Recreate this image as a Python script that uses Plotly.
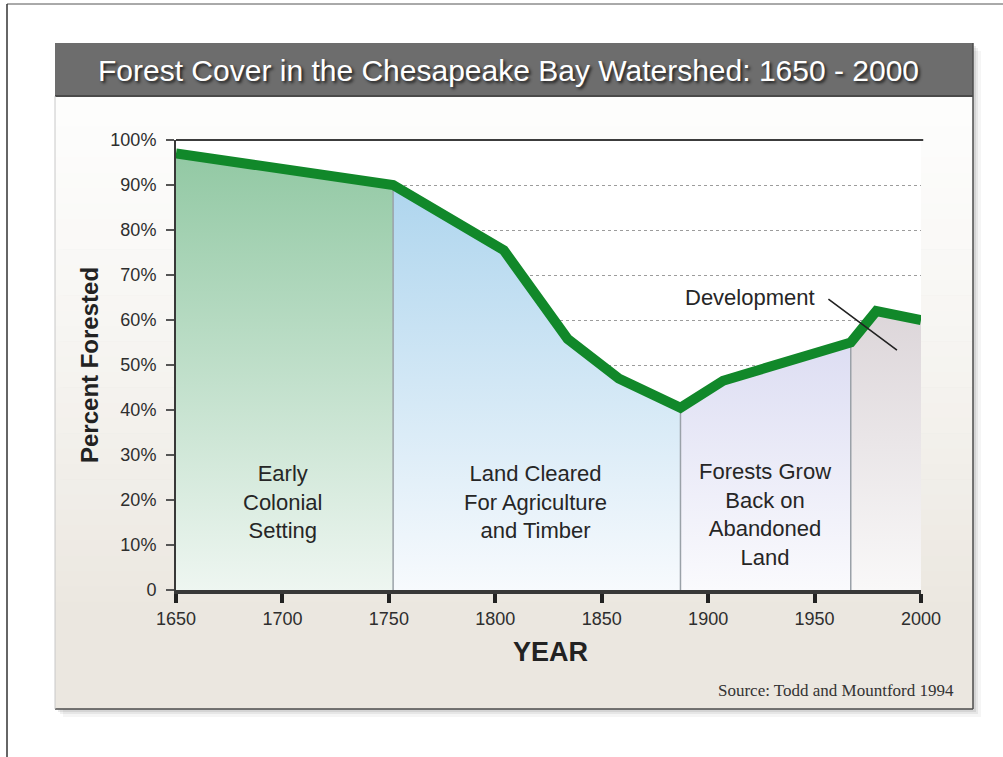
import plotly.graph_objects as go

# ---------------- data ----------------
years = [1650, 1752, 1804, 1834, 1858, 1887, 1907, 1967, 1979, 2000]
percent = [97, 90, 75.5, 55.8, 47, 40.5, 46.5, 55, 62, 60]

region_bounds = [1650, 1752, 1887, 1967, 2000]
region_names = ["Early<br>Colonial<br>Setting",
                "Land Cleared<br>For Agriculture<br>and Timber",
                "Forests Grow<br>Back on<br>Abandoned<br>Land",
                ""]
region_top_colors = ["#8fc7a1", "#a6d1ec", "#c5c6ea", "#cbc1c7"]
region_bottom_colors = ["#eef6f1", "#f7fafd", "#fafafd", "#f9f8f8"]

x_ticks = [1650, 1700, 1750, 1800, 1850, 1900, 1950, 2000]
y_ticks = [0, 10, 20, 30, 40, 50, 60, 70, 80, 90, 100]
y_tick_text = ["0"] + [f"{v}%" for v in y_ticks[1:]]

title_text = "Forest Cover in the Chesapeake Bay Watershed: 1650 - 2000"
source_text = "Source: Todd and Mountford 1994"

# ---------------- geometry (pixels) ----------------
FW, FH = 1003, 757
L, R, T, B = 176, 921, 140, 590
W, H = R - L, B - T


def PX(px):
    return (px - L) / W


def PY(py):
    return (B - py) / H


SANS = "Liberation Sans, Arial, Helvetica, sans-serif"
SERIF = "Liberation Serif, Times New Roman, serif"
TXT = "#262626"

fig = go.Figure()

# region fills
for i in range(len(region_bounds) - 1):
    lo, hi = region_bounds[i], region_bounds[i + 1]
    xs = [x for x in years if lo <= x <= hi]
    ys = [p for x, p in zip(years, percent) if lo <= x <= hi]
    fig.add_trace(go.Scatter(
        x=xs, y=ys, mode="none", fill="tozeroy",
        fillgradient=dict(type="vertical", start=0, stop=100,
                          colorscale=[[0, region_bottom_colors[i]],
                                      [1, region_top_colors[i]]]),
        hoverinfo="skip", showlegend=False))

# boundary lines
for b in region_bounds[1:-1]:
    v = percent[years.index(b)]
    fig.add_trace(go.Scatter(x=[b, b], y=[0, v], mode="lines",
                             line=dict(color="#9aa1a8", width=1.5),
                             hoverinfo="skip", showlegend=False))

# main line
fig.add_trace(go.Scatter(x=years, y=percent, mode="lines",
                         line=dict(color="#11882a", width=10),
                         showlegend=False))

# ---------------- decoration shapes ----------------
shapes = []
# outer frame
shapes.append(dict(type="line", xref="paper", yref="paper", x0=PX(7), x1=PX(1003),
                   y0=PY(4), y1=PY(4), line=dict(color="#555", width=1), layer="below"))
shapes.append(dict(type="line", xref="paper", yref="paper", x0=PX(7), x1=PX(7),
                   y0=PY(4), y1=PY(757), line=dict(color="#333", width=1.5), layer="below"))
# soft shadow
for off, a in [(8, 0.04), (5, 0.06), (3, 0.08)]:
    shapes.append(dict(type="rect", xref="paper", yref="paper",
                       x0=PX(55 + off), x1=PX(973 + off), y0=PY(43 + off), y1=PY(709 + off),
                       fillcolor=f"rgba(0,0,0,{a})", line=dict(width=0), layer="below"))
# panel gradient bands
N = 40
top_c, bot_c = (253, 253, 252), (235, 231, 224)
y0p, y1p = 96, 709
for k in range(N):
    t = (k + 0.5) / N
    tt = min(1.0, t ** 1.3 * 1.25)
    c = tuple(round(top_c[j] + (bot_c[j] - top_c[j]) * tt) for j in range(3))
    ya = y0p + (y1p - y0p) * k / N
    yb = y0p + (y1p - y0p) * (k + 1) / N + 0.6
    shapes.append(dict(type="rect", xref="paper", yref="paper",
                       x0=PX(55), x1=PX(973), y0=PY(ya), y1=PY(min(yb, y1p)),
                       fillcolor="rgb(%d,%d,%d)" % c, line=dict(width=0), layer="below"))
# title bar
shapes.append(dict(type="rect", xref="paper", yref="paper",
                   x0=PX(55), x1=PX(973), y0=PY(43), y1=PY(96),
                   fillcolor="#6d6d6d", line=dict(width=0), layer="below"))
shapes.append(dict(type="line", xref="paper", yref="paper", x0=PX(55), x1=PX(973),
                   y0=PY(96), y1=PY(96), line=dict(color="#4a4a4a", width=2), layer="below"))
# panel edges
shapes.append(dict(type="line", xref="paper", yref="paper", x0=PX(973), x1=PX(973),
                   y0=PY(43), y1=PY(709), line=dict(color="#4d4d4d", width=1.5), layer="below"))
shapes.append(dict(type="line", xref="paper", yref="paper", x0=PX(55), x1=PX(973),
                   y0=PY(709), y1=PY(709), line=dict(color="#4d4d4d", width=1.5), layer="below"))
shapes.append(dict(type="line", xref="paper", yref="paper", x0=PX(55), x1=PX(55),
                   y0=PY(96), y1=PY(709), line=dict(color="#c8c8c8", width=1), layer="below"))
# plot area background
shapes.append(dict(type="rect", xref="paper", yref="paper", x0=0, x1=1, y0=0, y1=1,
                   fillcolor="#ffffff", line=dict(width=0), layer="below"))
# top frame line of plot
shapes.append(dict(type="line", xref="paper", yref="paper", x0=0, x1=1.003, y0=1, y1=1,
                   line=dict(color="#3c3c3c", width=2), layer="above"))

# ---------------- annotations ----------------
ann = []
ann.append(dict(text=title_text, xref="paper", yref="paper", x=PX(508), y=PY(70),
                xanchor="center", yanchor="middle", showarrow=False,
                font=dict(family=SANS, size=30, color="#ffffff",
                          shadow="2px 2px 3px #1e1e1e")))
ann.append(dict(text="<b>Percent Forested</b>", xref="paper", yref="paper",
                x=PX(89), y=PY(365), textangle=-90, xanchor="center", yanchor="middle",
                showarrow=False, font=dict(family=SANS, size=24, color="#222")))
ann.append(dict(text="<b>YEAR</b>", xref="paper", yref="paper", x=PX(550), y=PY(652),
                xanchor="center", yanchor="middle", showarrow=False,
                font=dict(family=SANS, size=27, color="#222")))
ann.append(dict(text=source_text, xref="paper", yref="paper", x=PX(956), y=PY(690),
                xanchor="right", yanchor="middle", showarrow=False,
                font=dict(family=SERIF, size=17, color="#333")))

label_x = [1700.3, 1818.7, 1926.7, 1984]
label_y = [19.6, 19.6, 16.7, 0]
for i, name in enumerate(region_names):
    if not name:
        continue
    ann.append(dict(text=name, x=label_x[i], y=label_y[i], xref="x", yref="y",
                    xanchor="center", yanchor="middle", showarrow=False,
                    font=dict(family=SANS, size=22, color=TXT)))

ann.append(dict(text="Development", x=1919.7, y=65.1, xref="x", yref="y",
                xanchor="center", yanchor="middle", showarrow=False,
                font=dict(family=SANS, size=22, color=TXT)))
ann.append(dict(text="", x=1988.7, y=53.3, ax=1955.8, ay=64.9, xref="x", yref="y",
                axref="x", ayref="y", showarrow=True, arrowhead=0, arrowwidth=1.6,
                arrowcolor="#222"))

fig.update_layout(
    width=FW, height=FH, autosize=False,
    margin=dict(l=L, r=FW - R, t=T, b=FH - B, pad=0),
    paper_bgcolor="#ffffff", plot_bgcolor="rgba(0,0,0,0)",
    shapes=shapes, annotations=ann, showlegend=False,
    font=dict(family=SANS, color=TXT),
    xaxis=dict(range=[1650, 2000], tickvals=x_ticks, ticks="outside", ticklen=9,
               tickwidth=4, tickcolor="#222", showline=True, linewidth=4,
               linecolor="#383838", showgrid=False, zeroline=False,
               tickfont=dict(family=SANS, size=18, color="#2e2e2e"), fixedrange=True),
    yaxis=dict(range=[0, 100], tickvals=y_ticks, ticktext=y_tick_text, ticks="outside",
               ticklen=8, tickwidth=2, tickcolor="#555", showline=True, linewidth=2,
               linecolor="#383838", showgrid=True, gridcolor="#9c9c9c", griddash="dot",
               gridwidth=1, zeroline=False, ticklabelstandoff=6,
               tickfont=dict(family=SANS, size=18, color="#2e2e2e"), fixedrange=True),
)

fig.write_html("out.html", config={"displayModeBar": False},
               post_script="document.body.style.margin='0';document.body.style.overflow='hidden';")
